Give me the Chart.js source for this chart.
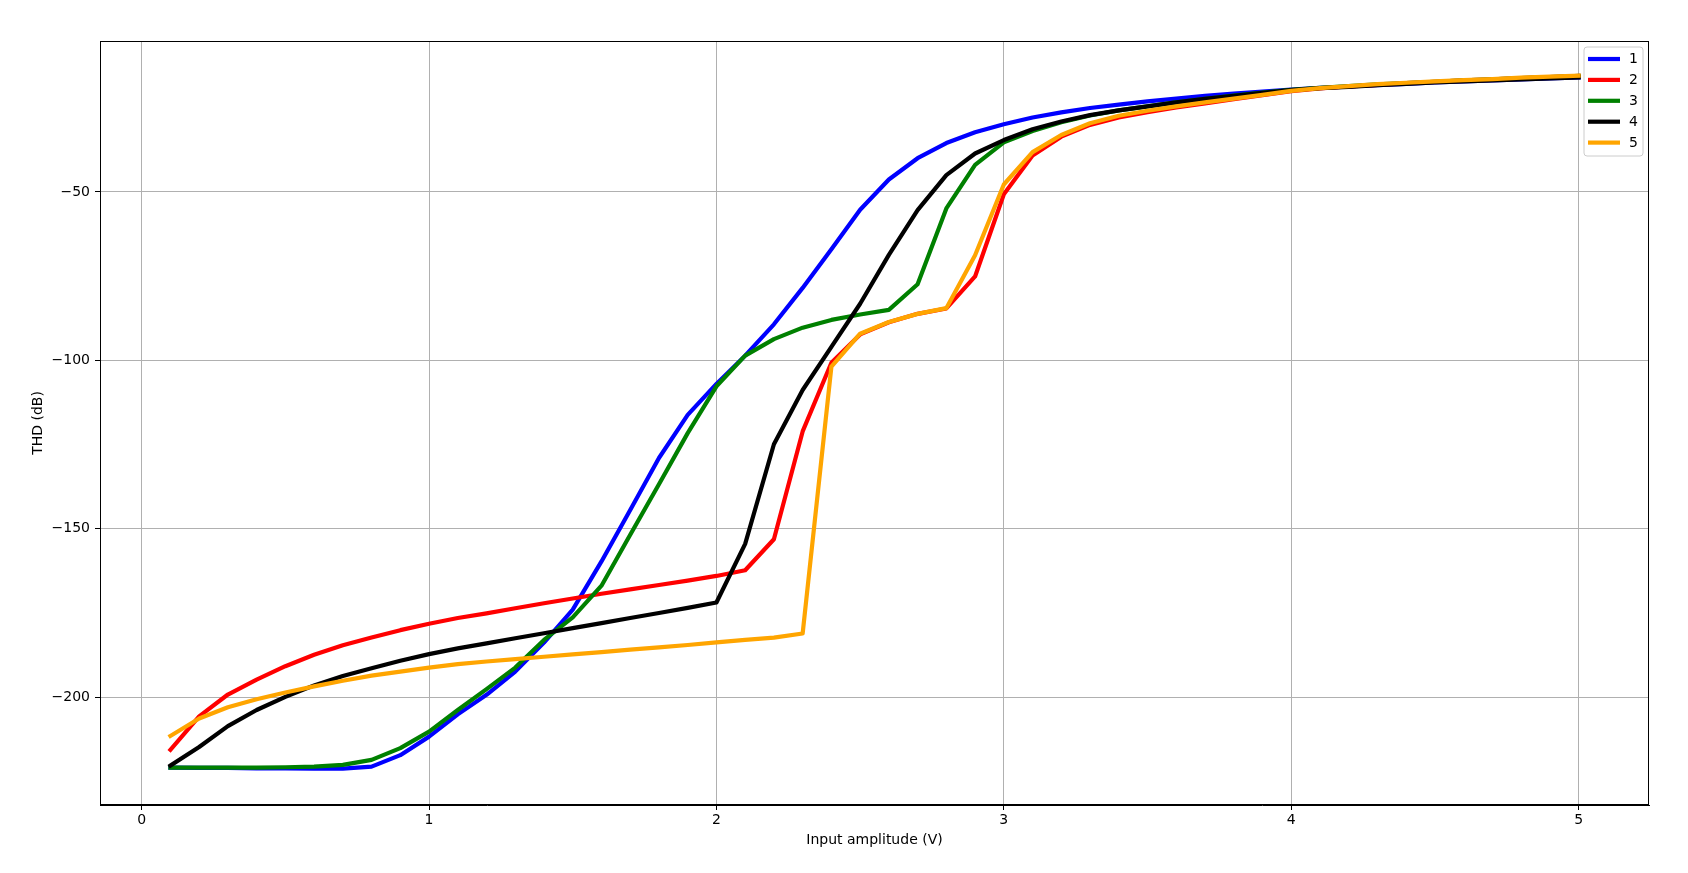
<!DOCTYPE html>
<html>
<head>
<meta charset="utf-8">
<script src="https://cdn.jsdelivr.net/npm/chart.js@4/dist/chart.umd.min.js"></script>
<style>
  html, body { margin: 0; padding: 0; background: #ffffff; }
  #wrap { width: 1688px; height: 873px; }
</style>
</head>
<body>
<div id="wrap"><canvas id="c" width="1688" height="873"></canvas></div>
<script>
// ---- data ----
const inputAmplitude = [0.1, 0.2, 0.3, 0.4, 0.5, 0.6, 0.7, 0.8, 0.9, 1.0,
  1.1, 1.2, 1.3, 1.4, 1.5, 1.6, 1.7, 1.8, 1.9, 2.0,
  2.1, 2.2, 2.3, 2.4, 2.5, 2.6, 2.7, 2.8, 2.9, 3.0,
  3.1, 3.2, 3.3, 3.4, 3.5, 3.6, 3.7, 3.8, 3.9, 4.0,
  4.1, 4.2, 4.3, 4.4, 4.5, 4.6, 4.7, 4.8, 4.9, 5.0];

const series1 = [-220.9, -221.0, -221.0, -221.1, -221.1, -221.2, -221.2, -220.6, -217.2, -211.7,
  -205.1, -199.3, -192.4, -183.8, -174.0, -159.7, -144.4, -129.0, -116.2, -107.0,
  -98.6, -89.3, -78.5, -67.0, -55.3, -46.3, -40.0, -35.5, -32.3, -29.9,
  -27.9, -26.4, -25.1, -24.1, -23.1, -22.3, -21.5, -20.8, -20.2, -19.6,
  -19.1, -18.7, -18.3, -17.9, -17.5, -17.2, -16.9, -16.6, -16.3, -16.0];

const series2 = [-215.6, -205.7, -199.2, -194.8, -190.8, -187.4, -184.6, -182.3, -180.1, -178.2,
  -176.5, -175.1, -173.6, -172.1, -170.7, -169.3, -168.0, -166.7, -165.4, -164.0,
  -162.3, -153.1, -121.1, -100.7, -92.3, -88.7, -86.2, -84.6, -75.1, -50.7,
  -39.2, -33.6, -30.1, -27.9, -26.3, -24.9, -23.7, -22.5, -21.3, -20.1,
  -19.3, -18.7, -18.2, -17.7, -17.3, -16.9, -16.6, -16.2, -15.9, -15.6];

const series3 = [-220.9, -220.9, -220.9, -220.9, -220.8, -220.6, -220.1, -218.6, -215.1, -210.2,
  -203.8, -197.6, -191.2, -183.0, -176.3, -166.9, -151.8, -136.8, -121.6, -107.7,
  -98.6, -93.7, -90.3, -88.0, -86.4, -85.0, -77.4, -54.9, -42.0, -35.3,
  -31.9, -29.3, -27.3, -25.8, -24.6, -23.4, -22.4, -21.4, -20.5, -19.7,
  -19.1, -18.6, -18.1, -17.7, -17.3, -16.9, -16.6, -16.2, -15.9, -15.6];

const series4 = [-220.3, -214.8, -208.6, -203.8, -199.9, -196.5, -193.7, -191.4, -189.2, -187.2,
  -185.5, -184.0, -182.5, -181.0, -179.5, -178.0, -176.5, -175.0, -173.5, -171.9,
  -154.5, -124.9, -108.8, -96.0, -83.2, -68.7, -55.4, -45.0, -38.6, -34.6,
  -31.4, -29.1, -27.2, -25.8, -24.6, -23.4, -22.4, -21.5, -20.6, -19.8,
  -19.2, -18.8, -18.3, -17.9, -17.5, -17.2, -16.9, -16.6, -16.3, -16.0];

const series5 = [-211.5, -206.3, -203.0, -200.6, -198.6, -196.8, -195.1, -193.6, -192.4, -191.2,
  -190.2, -189.4, -188.7, -188.0, -187.3, -186.6, -185.9, -185.2, -184.5, -183.7,
  -183.0, -182.3, -181.1, -101.9, -92.1, -88.6, -86.2, -84.5, -68.8, -47.8,
  -38.2, -33.1, -29.6, -27.4, -25.9, -24.6, -23.4, -22.3, -21.2, -20.0,
  -19.2, -18.6, -18.0, -17.6, -17.2, -16.8, -16.5, -16.1, -15.8, -15.5];

const seriesNames = ['1', '2', '3', '4', '5'];
const xTickValues = [0, 1, 2, 3, 4, 5];
const yTickValues = [-200, -150, -100, -50];
const xAxisTitle = 'Input amplitude (V)';
const yAxisTitle = 'THD (dB)';

// ---- styling ----
const seriesColors = ['#0000ff', '#ff0000', '#008000', '#000000', '#ffa500'];
const allSeries = [series1, series2, series3, series4, series5];
const FONT = "'DejaVu Sans', 'Liberation Sans', sans-serif";
const LINE_W = 4.2;

const datasets = allSeries.map((s, i) => ({
  label: seriesNames[i],
  data: s.map((v, j) => ({ x: inputAmplitude[j], y: v })),
  borderColor: seriesColors[i],
  backgroundColor: seriesColors[i],
  borderWidth: LINE_W,
  pointRadius: 0,
  pointHoverRadius: 0,
  tension: 0,
  fill: false,
  borderJoinStyle: 'round',
  borderCapStyle: 'square',
  order: allSeries.length - i   // later series drawn on top, like matplotlib
}));

const fmt = v => (v < 0 ? '\u2212' + Math.abs(v) : String(v));

const framePlugin = {
  id: 'frame',
  afterDraw(chart) {
    const { ctx, chartArea: a } = chart;
    ctx.save();
    ctx.strokeStyle = '#000000';
    ctx.lineWidth = 1;
    ctx.strokeRect(Math.round(a.left) + 0.5, Math.round(a.top) + 0.5,
                   Math.round(a.right - a.left) - 1, Math.round(a.bottom - a.top) - 1);
    ctx.restore();
  }
};

const legendPlugin = {
  id: 'mplLegend',
  afterDraw(chart) {
    const { ctx, chartArea: a } = chart;
    const ds = chart.data.datasets;
    const boxW = 59, rowH = 20.9, boxH = 109;
    const x0 = a.right - 6 - boxW, y0 = a.top + 6;
    ctx.save();
    // frame
    const r = 3;
    ctx.beginPath();
    ctx.moveTo(x0 + r, y0);
    ctx.lineTo(x0 + boxW - r, y0);
    ctx.quadraticCurveTo(x0 + boxW, y0, x0 + boxW, y0 + r);
    ctx.lineTo(x0 + boxW, y0 + boxH - r);
    ctx.quadraticCurveTo(x0 + boxW, y0 + boxH, x0 + boxW - r, y0 + boxH);
    ctx.lineTo(x0 + r, y0 + boxH);
    ctx.quadraticCurveTo(x0, y0 + boxH, x0, y0 + boxH - r);
    ctx.lineTo(x0, y0 + r);
    ctx.quadraticCurveTo(x0, y0, x0 + r, y0);
    ctx.closePath();
    ctx.fillStyle = 'rgba(255,255,255,0.8)';
    ctx.fill();
    ctx.strokeStyle = '#cccccc';
    ctx.lineWidth = 1;
    ctx.stroke();
    // entries
    ctx.font = '14px ' + FONT;
    ctx.textBaseline = 'middle';
    ctx.textAlign = 'left';
    ds.forEach((d, i) => {
      const yc = y0 + 12 + i * rowH;
      ctx.beginPath();
      ctx.strokeStyle = d.borderColor;
      ctx.lineWidth = LINE_W;
      ctx.lineCap = 'butt';
      ctx.moveTo(x0 + 4, yc);
      ctx.lineTo(x0 + 36, yc);
      ctx.stroke();
      ctx.fillStyle = '#000000';
      ctx.fillText(d.label, x0 + 45, yc + 0.5);
    });
    ctx.restore();
  }
};

new Chart(document.getElementById('c'), {
  type: 'line',
  data: { datasets },
  options: {
    responsive: false,
    devicePixelRatio: 1,
    animation: false,
    events: [],
    layout: { padding: { top: 41, right: 39, left: 0, bottom: 0 } },
    plugins: {
      legend: { display: false },
      tooltip: { enabled: false },
      title: { display: false }
    },
    scales: {
      x: {
        type: 'linear',
        min: -0.145,
        max: 5.245,
        afterBuildTicks: s => { s.ticks = xTickValues.map(v => ({ value: v })); },
        afterFit: s => { s.height = 68; },
        ticks: {
          callback: v => fmt(v),
          color: '#000000',
          font: { family: FONT, size: 14 },
          padding: 2,
          maxRotation: 0,
          autoSkip: false
        },
        grid: {
          color: '#b0b0b0',
          lineWidth: 1,
          tickColor: '#000000',
          tickLength: 5,
          drawOnChartArea: true
        },
        border: { display: true, color: '#000000', width: 1 },
        title: {
          display: true,
          text: xAxisTitle,
          color: '#000000',
          font: { family: FONT, size: 14 },
          padding: { top: 0, bottom: 24.6 }
        }
      },
      y: {
        type: 'linear',
        min: -232.0,
        max: -5.2,
        afterBuildTicks: s => { s.ticks = yTickValues.map(v => ({ value: v })); },
        afterFit: s => { s.width = 100; },
        ticks: {
          callback: v => fmt(v),
          color: '#000000',
          font: { family: FONT, size: 14 },
          padding: 5,
          autoSkip: false
        },
        grid: {
          color: '#b0b0b0',
          lineWidth: 1,
          tickColor: '#000000',
          tickLength: 5,
          drawOnChartArea: true
        },
        border: { display: true, color: '#000000', width: 1 },
        title: {
          display: true,
          text: yAxisTitle,
          color: '#000000',
          font: { family: FONT, size: 14 },
          padding: { top: 29.6, bottom: 0 }
        }
      }
    }
  },
  plugins: [framePlugin, legendPlugin]
});
</script>
</body>
</html>
